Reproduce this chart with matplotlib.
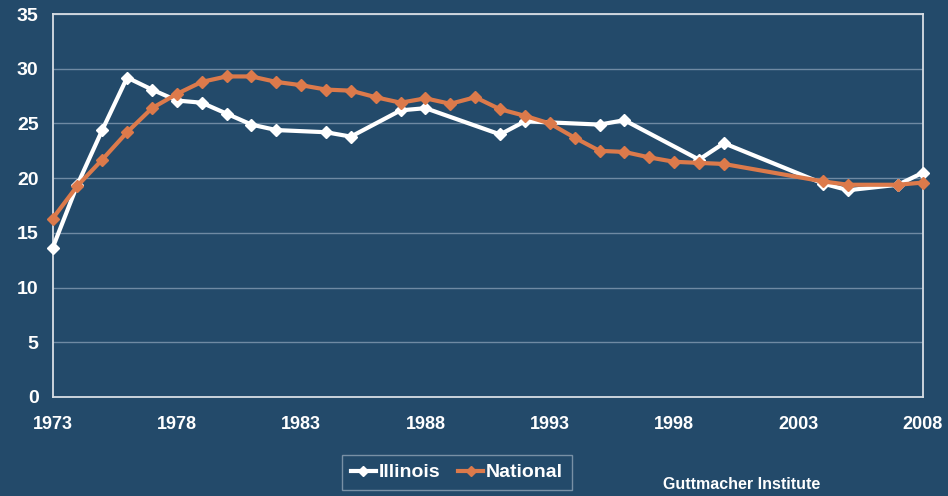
import matplotlib.pyplot as plt

plt.rcParams['font.family'] = ['Liberation Sans', 'DejaVu Sans']

# Illinois (state data not available every year)
il_years = [1973, 1974, 1975, 1976, 1977, 1978, 1979, 1980, 1981, 1982,
            1984, 1985, 1987, 1988, 1991, 1992, 1995, 1996, 1999, 2000,
            2004, 2005, 2007, 2008]
il_rate = [13.6, 19.4, 24.4, 29.2, 28.1, 27.1, 26.9, 25.9, 24.9, 24.4,
           24.2, 23.8, 26.2, 26.4, 24.0, 25.2, 24.9, 25.3, 21.7, 23.2,
           19.5, 18.9, 19.4, 20.5]

# National
us_years = [1973, 1974, 1975, 1976, 1977, 1978, 1979, 1980, 1981, 1982,
            1983, 1984, 1985, 1986, 1987, 1988, 1989, 1990, 1991, 1992,
            1993, 1994, 1995, 1996, 1997, 1998, 1999, 2000, 2004, 2005,
            2007, 2008]
us_rate = [16.3, 19.3, 21.7, 24.2, 26.4, 27.7, 28.8, 29.3, 29.3, 28.8,
           28.5, 28.1, 28.0, 27.4, 26.9, 27.3, 26.8, 27.4, 26.3, 25.7,
           25.0, 23.7, 22.5, 22.4, 21.9, 21.5, 21.4, 21.3, 19.7, 19.4,
           19.4, 19.6]

x_ticks = [1973, 1978, 1983, 1988, 1993, 1998, 2003, 2008]

bg = '#234a6a'
orange = '#dc7a4b'

fig = plt.figure(figsize=(9.48, 4.96), dpi=100, facecolor=bg)
ax = fig.add_axes([0.0554, 0.1996, 0.918, 0.772], facecolor=bg)

ax.plot(il_years, il_rate, color='white', linewidth=3, marker='D',
        markersize=6, label='Illinois', zorder=3, clip_on=False)
ax.plot(us_years, us_rate, color=orange, linewidth=3, marker='D',
        markersize=6, label='National', zorder=4, clip_on=False)

ax.set_xlim(1973, 2008)
ax.set_ylim(0, 35)
ax.set_xticks(x_ticks)
ax.set_yticks(range(0, 36, 5))
ax.yaxis.grid(True, color='#6f8aa3', linewidth=1)
ax.set_axisbelow(True)

for s in ax.spines.values():
    s.set_color('#d8dee4')
    s.set_linewidth(1.3)

ax.tick_params(axis='both', length=0, colors='white')
ax.tick_params(axis='x', labelsize=13, pad=14)
ax.tick_params(axis='y', labelsize=14, pad=10)
for lab in ax.get_xticklabels() + ax.get_yticklabels():
    lab.set_fontweight('bold')

leg = fig.legend(loc='center', bbox_to_anchor=(0.482, 0.047), ncol=2,
                 frameon=True, fancybox=False, handlelength=1.3,
                 handletextpad=0.15, columnspacing=0.9, borderpad=0.45,
                 borderaxespad=0, markerscale=0.8,
                 prop={'size': 14, 'weight': 'bold'})
leg.get_frame().set_facecolor(bg)
leg.get_frame().set_edgecolor('#8ea2b5')
leg.get_frame().set_linewidth(1)
for t in leg.get_texts():
    t.set_color('white')

fig.text(0.782, 0.008, 'Guttmacher Institute', color='white', fontsize=11.5,
         fontweight='bold', ha='center', va='bottom')

fig.savefig('out.png', dpi=100, facecolor=bg)
